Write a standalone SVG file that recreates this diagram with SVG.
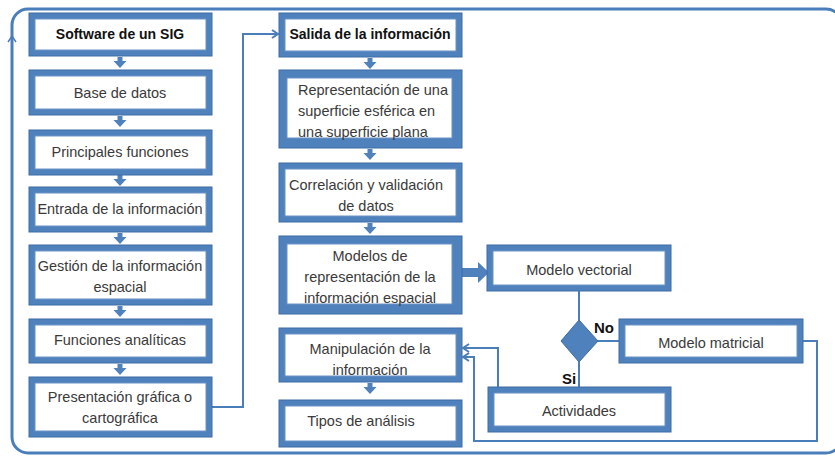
<svg xmlns="http://www.w3.org/2000/svg" width="835" height="457" viewBox="0 0 835 457">
<defs>
<style>
.box rect.o{fill:#4f81bd;stroke:#3d6ca3;stroke-width:1}
.box rect.i{fill:#fff;stroke:#6a93c6;stroke-width:1}
.t{font-family:"Liberation Sans",Arial,sans-serif;font-size:14.5px;fill:#3a3a3a;text-anchor:middle}
.b{font-weight:bold;fill:#111;font-size:14px}
.lbl{font-family:"Liberation Sans",Arial,sans-serif;font-size:15px;font-weight:bold;fill:#111}
.con{fill:none;stroke:#4a7ebb;stroke-width:2}
.frame{fill:none;stroke:#4a7ebb;stroke-width:3}
</style>
<marker id="ah" markerWidth="10" markerHeight="10" refX="8" refY="5" orient="auto" markerUnits="userSpaceOnUse">
<path d="M2,1 L8,5 L2,9" fill="none" stroke="#4a7ebb" stroke-width="2"/>
</marker>
<path id="dn" d="M-2.5,0 h5 v4 h4 l-6.5,7 l-6.5,-7 h4 z" fill="#4f81bd"/>
</defs>

<rect class="frame" x="12" y="9" width="830" height="444" rx="16"/>
<path d="M8,42 L12,36 L16,42" fill="none" stroke="#4a7ebb" stroke-width="1.5"/>

<g id="connectors">
<use href="#dn" x="120" y="57"/>
<use href="#dn" x="120" y="116"/>
<use href="#dn" x="120" y="175"/>
<use href="#dn" x="120" y="233"/>
<use href="#dn" x="120" y="306"/>
<use href="#dn" x="120" y="364"/>
<use href="#dn" x="370" y="58"/>
<use href="#dn" x="370" y="149"/>
<use href="#dn" x="370" y="223"/>
<use href="#dn" x="370" y="383"/>
<path class="con" d="M212,407 H243 V34 H278" marker-end="url(#ah)"/>
<path d="M462,268 H478 V262 L489,272.5 L478,283 V277 H462 Z" fill="#4f81bd"/>
<path class="con" d="M579,291 V320"/>
<path class="con" d="M579,362 V387"/>
<path class="con" d="M598,341 H619"/>
<path class="con" d="M498,387 V348 H463" marker-end="url(#ah)"/>
<path class="con" d="M803,341 H817 V441 H474 V357 H463" marker-end="url(#ah)"/>
</g>

<g id="n-software" class="box"><rect class="o" x="29" y="13" width="183" height="43"/><rect class="i" x="35" y="19" width="171" height="31"/><text class="t b" x="120" y="39">Software de un SIG</text></g>
<g id="n-base" class="box"><rect class="o" x="29" y="70" width="183" height="45"/><rect class="i" x="35" y="76" width="171" height="33"/><text class="t" x="120" y="98">Base de datos</text></g>
<g id="n-principales" class="box"><rect class="o" x="29" y="130" width="183" height="45"/><rect class="i" x="35" y="136" width="171" height="33"/><text class="t" x="120" y="157">Principales funciones</text></g>
<g id="n-entrada" class="box"><rect class="o" x="29" y="187" width="183" height="45"/><rect class="i" x="35" y="193" width="171" height="33"/><text class="t" x="120" y="214">Entrada de la información</text></g>
<g id="n-gestion" class="box"><rect class="o" x="29" y="245" width="183" height="60"/><rect class="i" x="35" y="251" width="171" height="48"/><text class="t" x="120" y="271">Gestión de la información</text><text class="t" x="120" y="292">espacial</text></g>
<g id="n-funciones" class="box"><rect class="o" x="29" y="319" width="183" height="44"/><rect class="i" x="35" y="325" width="171" height="32"/><text class="t" x="120" y="345">Funciones analíticas</text></g>
<g id="n-presentacion" class="box"><rect class="o" x="29" y="377" width="183" height="60"/><rect class="i" x="35" y="383" width="171" height="48"/><text class="t" x="120" y="402">Presentación gráfica o</text><text class="t" x="120" y="423">cartográfica</text></g>

<g id="n-salida" class="box"><rect class="o" x="279" y="13" width="183" height="44"/><rect class="i" x="285" y="19" width="171" height="32"/><text class="t b" x="370" y="39">Salida de la información</text></g>
<g id="n-representacion" class="box"><rect class="o" x="279" y="70" width="183" height="78"/><rect class="i" x="287" y="78" width="165" height="60"/><text class="t" x="298" y="95" style="text-anchor:start">Representación de una</text><text class="t" x="298" y="116" style="text-anchor:start">superficie esférica en</text><text class="t" x="298" y="137" style="text-anchor:start">una superficie plana</text></g>
<g id="n-correlacion" class="box"><rect class="o" x="279" y="163" width="183" height="59"/><rect class="i" x="285" y="169" width="171" height="47"/><text class="t" x="366" y="190">Correlación y validación</text><text class="t" x="366" y="211">de datos</text></g>
<g id="n-modelos" class="box"><rect class="o" x="279" y="236" width="183" height="78"/><rect class="i" x="287" y="244" width="165" height="60"/><text class="t" x="370" y="261">Modelos de</text><text class="t" x="370" y="282">representación de la</text><text class="t" x="370" y="303">información espacial</text></g>
<g id="n-manipulacion" class="box"><rect class="o" x="279" y="328" width="183" height="54"/><rect class="i" x="285" y="334" width="171" height="42"/><text class="t" x="370" y="354">Manipulación de la</text><text class="t" x="370" y="375">información</text></g>
<g id="n-tipos" class="box"><rect class="o" x="279" y="400" width="183" height="47"/><rect class="i" x="285" y="406" width="171" height="35"/><text class="t" x="361" y="426">Tipos de análisis</text></g>

<g id="n-vectorial" class="box"><rect class="o" x="487" y="245" width="184" height="46"/><rect class="i" x="493" y="251" width="172" height="34"/><text class="t" x="579" y="275">Modelo vectorial</text></g>
<g id="n-matricial" class="box"><rect class="o" x="619" y="319" width="184" height="44"/><rect class="i" x="625" y="325" width="172" height="32"/><text class="t" x="711" y="348">Modelo matricial</text></g>
<g id="n-actividades" class="box"><rect class="o" x="488" y="387" width="183" height="45"/><rect class="i" x="494" y="393" width="171" height="33"/><text class="t" x="579" y="416">Actividades</text></g>
<g id="n-decision"><path d="M579,320 L598,341 L579,362 L561,341 Z" fill="#4f81bd" stroke="#3d6ca3" stroke-width="1"/></g>
<text class="lbl" x="594" y="333">No</text>
<text class="lbl" x="562" y="384">Si</text>
</svg>
